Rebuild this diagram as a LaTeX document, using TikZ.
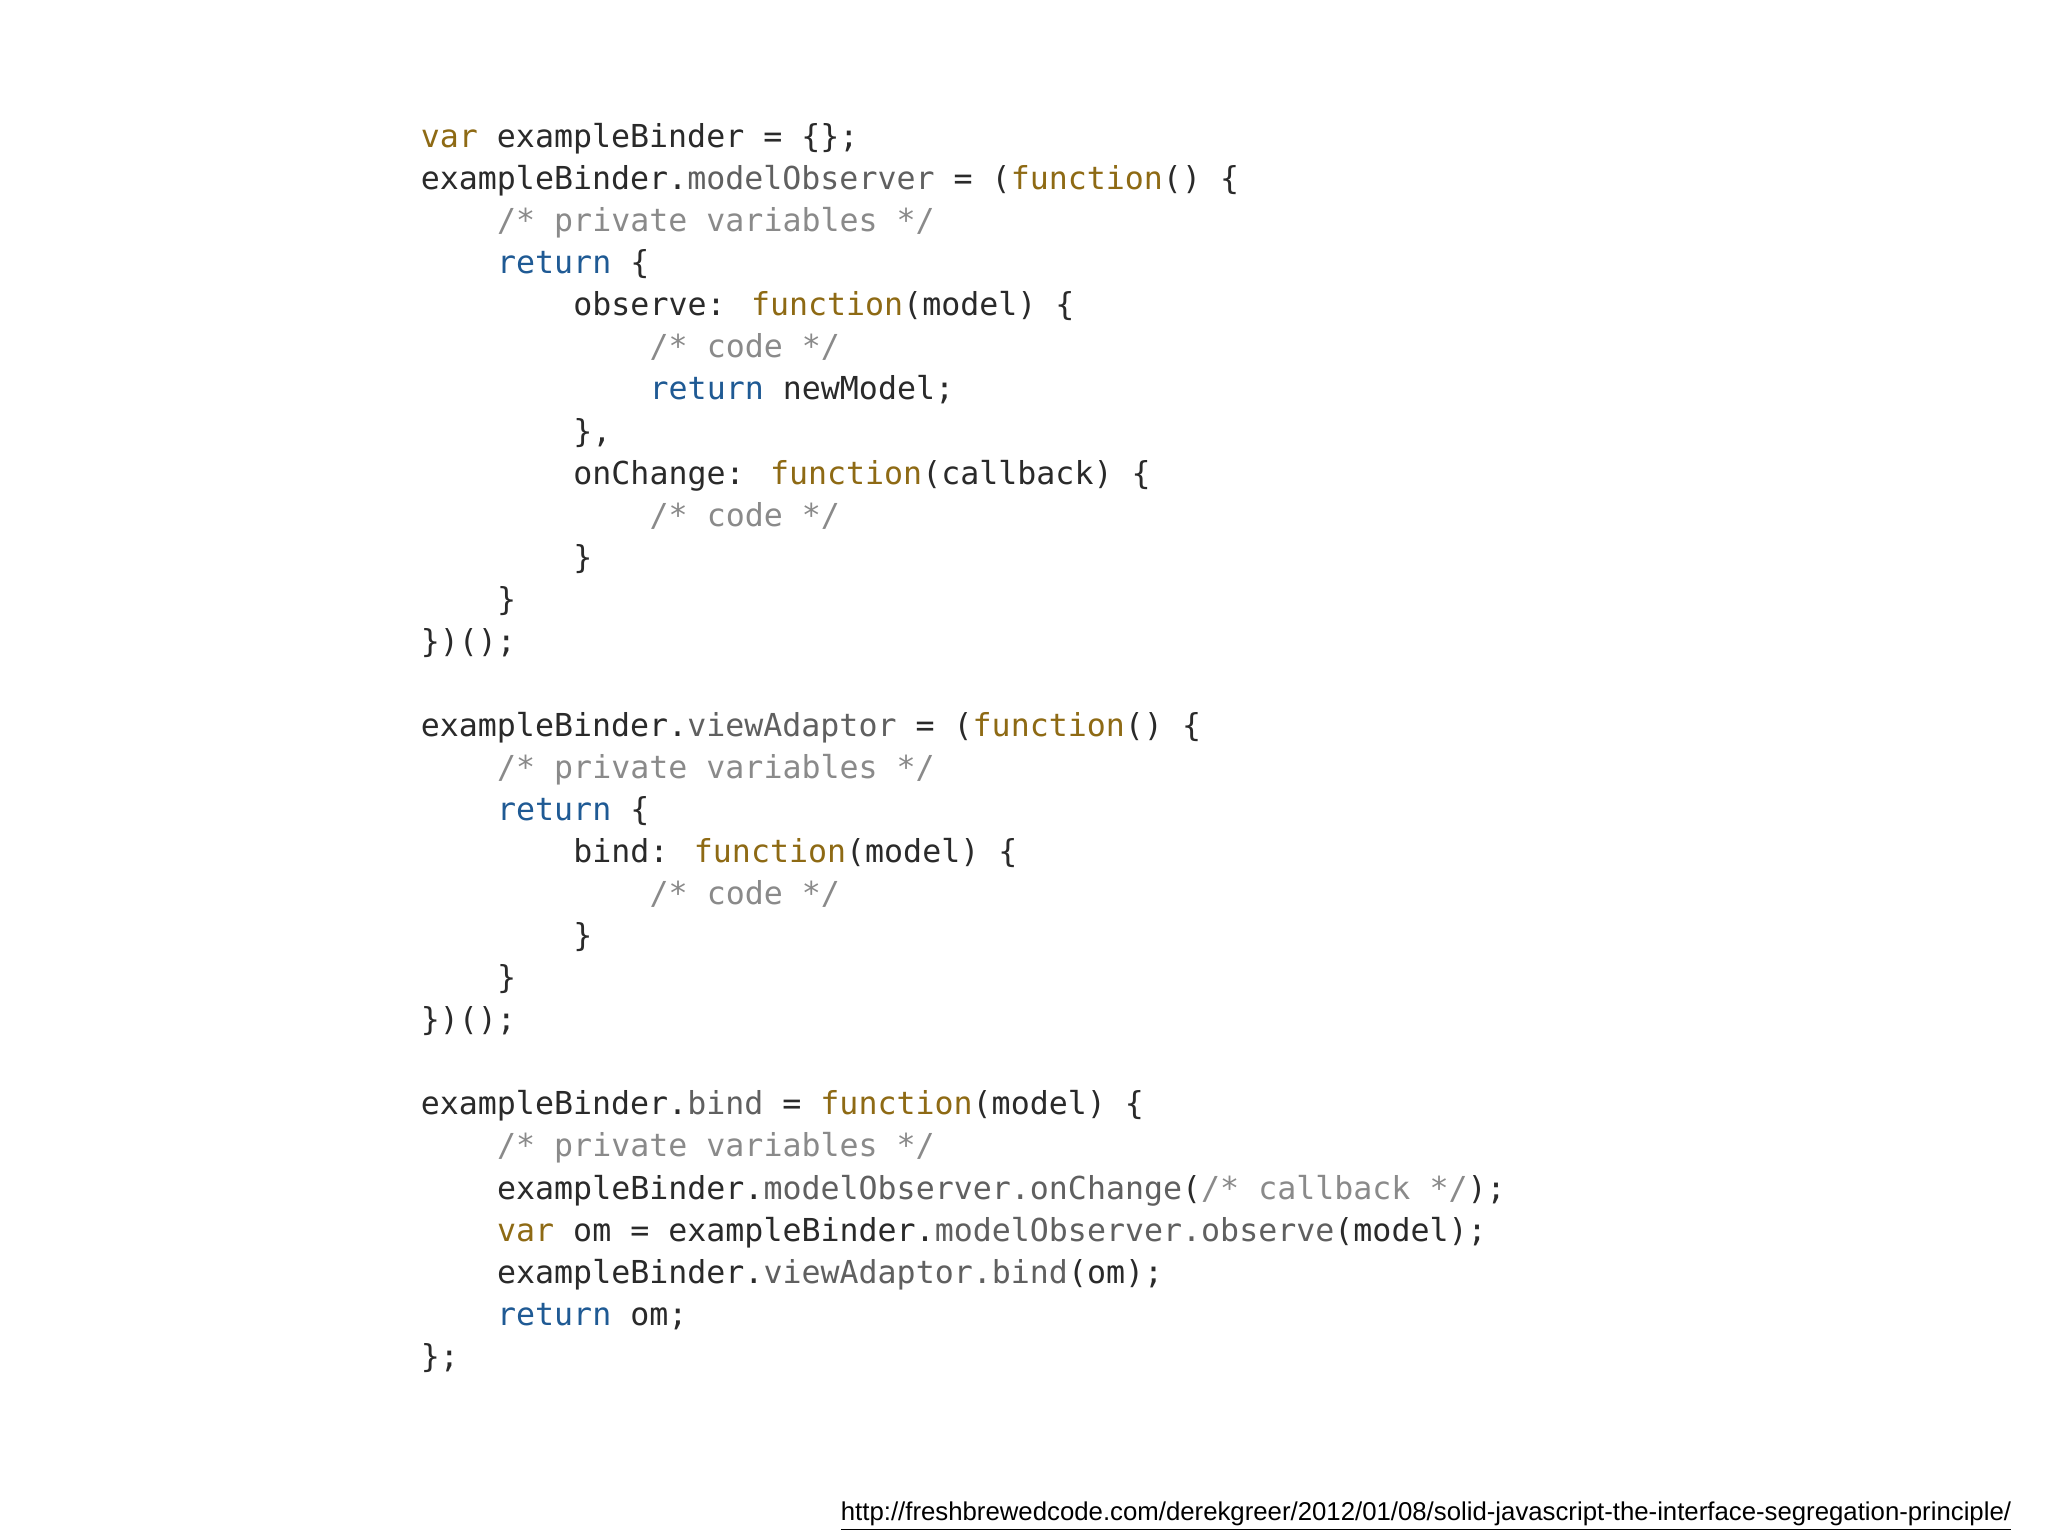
\documentclass[tikz,border=0pt]{standalone}
\usepackage{fontspec}
\setmainfont{DejaVu Sans Mono}
\newfontfamily\urlfont{Liberation Sans}
\definecolor{base}{HTML}{2A2A2A}
\definecolor{kwc}{HTML}{8E6A14}
\definecolor{rtc}{HTML}{1F5A94}
\definecolor{cmc}{HTML}{8A8A8A}
\definecolor{prc}{HTML}{606060}
\newcommand{\kw}[1]{\textcolor{kwc}{#1}}
\newcommand{\rt}[1]{\textcolor{rtc}{#1}}
\newcommand{\cm}[1]{\textcolor{cmc}{#1}}
\newcommand{\pr}[1]{\textcolor{prc}{#1}}
\newcommand{\codeline}[4]{\node[code] (#1) at ({322+58.4*#2},{113+32.2*#3}) {#4};}
\begin{document}
\begin{tikzpicture}[x=1pt,y=-1pt,
  code/.style={anchor=base west,inner sep=0pt,font=\fontsize{24.2}{29}\selectfont,text=base}]
\useasboundingbox[fill=white] (0,0) rectangle (1568,1176);
\codeline{a0}{0}{0}{\kw{var} exampleBinder = \{\};}
\codeline{a1}{0}{1}{exampleBinder.\pr{modelObserver} = (\kw{function}() \{}
\codeline{a2}{1}{2}{\cm{/* private variables */}}
\codeline{a3}{1}{3}{\rt{return} \{}
\codeline{a4}{2}{4}{observe: \kw{function}(model) \{}
\codeline{a5}{3}{5}{\cm{/* code */}}
\codeline{a6}{3}{6}{\rt{return} newModel;}
\codeline{a7}{2}{7}{\},}
\codeline{a8}{2}{8}{onChange: \kw{function}(callback) \{}
\codeline{a9}{3}{9}{\cm{/* code */}}
\codeline{a10}{2}{10}{\}}
\codeline{a11}{1}{11}{\}}
\codeline{a12}{0}{12}{\})();}
\codeline{b0}{0}{14}{exampleBinder.\pr{viewAdaptor} = (\kw{function}() \{}
\codeline{b1}{1}{15}{\cm{/* private variables */}}
\codeline{b2}{1}{16}{\rt{return} \{}
\codeline{b3}{2}{17}{bind: \kw{function}(model) \{}
\codeline{b4}{3}{18}{\cm{/* code */}}
\codeline{b5}{2}{19}{\}}
\codeline{b6}{1}{20}{\}}
\codeline{b7}{0}{21}{\})();}
\codeline{c0}{0}{23}{exampleBinder.\pr{bind} = \kw{function}(model) \{}
\codeline{c1}{1}{24}{\cm{/* private variables */}}
\codeline{c2}{1}{25}{exampleBinder.\pr{modelObserver.onChange}(\cm{/* callback */});}
\codeline{c3}{1}{26}{\kw{var} om = exampleBinder.\pr{modelObserver.observe}(model);}
\codeline{c4}{1}{27}{exampleBinder.\pr{viewAdaptor.bind}(om);}
\codeline{c5}{1}{28}{\rt{return} om;}
\codeline{c6}{0}{29}{\};}
\node[anchor=base east,inner sep=0pt,text=black] (url) at (1540,1164)
  {\resizebox{896pt}{!}{\urlfont\underline{http://freshbrewedcode.com/derekgreer/2012/01/08/solid-javascript-the-interface-segregation-principle/}}};
\end{tikzpicture}
\end{document}
